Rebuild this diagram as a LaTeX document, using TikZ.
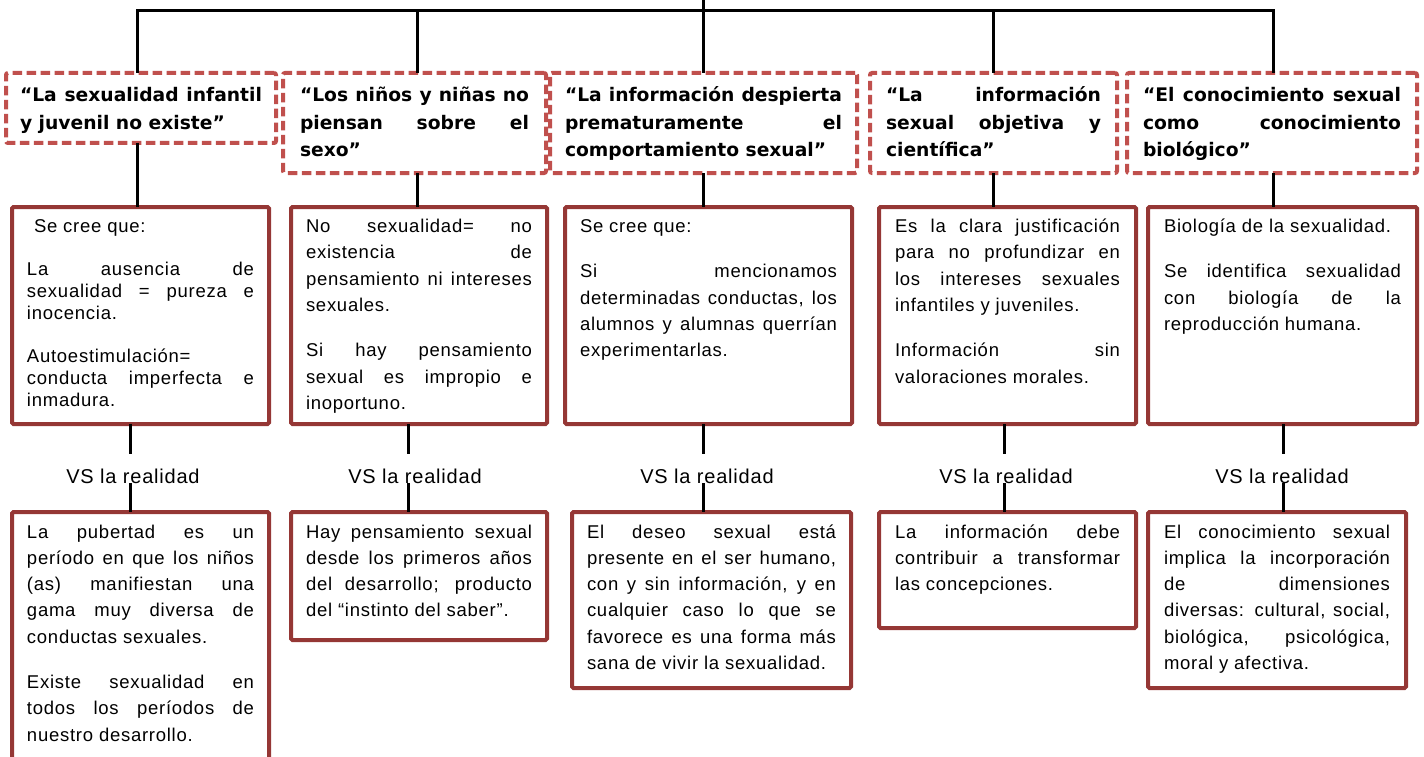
\documentclass[tikz,border=0pt]{standalone}
\usepackage{fontspec}
\newfontfamily\bodyf{Liberation Sans}[LetterSpace=4]
\newfontfamily\hdrf{DejaVu Sans}
\definecolor{hdrred}{HTML}{C0504D}
\definecolor{boxred}{HTML}{953735}
\newcommand\justln[1]{\makebox[\linewidth][s]{\strut#1}\par}
\newcommand\lastln[1]{\mbox{\strut#1}\par}
\newcommand\pgap[1]{\vspace{#1pt}}
\newcommand\tbox[9]{\node[#2,anchor=north west,inner xsep=#7pt,inner ysep=#8pt] (#1) at (#3,#4) {\parbox[t][\dimexpr#6pt-#8pt-#8pt\relax][t]{\dimexpr#5pt-#7pt-#7pt\relax}{#9}};}
\begin{document}
\begin{tikzpicture}[x=1pt,y=-1pt,
 hdr/.style={draw=hdrred, line width=4pt, dash pattern=on 9.5pt off 4.5pt, rounded corners=2pt, outer sep=0pt, font=\hdrf\bfseries\fontsize{18.7}{27.5}\selectfont},
 mid/.style={draw=boxred, line width=4pt, rounded corners=1.5pt, outer sep=0pt, font=\bodyf\fontsize{18.5}{26.3}\selectfont},
 midtight/.style={mid, font=\bodyf\fontsize{18.5}{22}\selectfont},
 conn/.style={draw=black, line width=3pt},
 vs/.style={anchor=base, inner sep=0pt, outer ysep=15pt, font=\bodyf\fontsize{20}{24}\selectfont}]
\useasboundingbox (0,0) rectangle (1424,757);
% header boxes
\tbox{h1}{hdr}{6}{73}{270}{70}{14}{9.75}{\justln{“La sexualidad infantil}\lastln{y juvenil no existe”}}
\tbox{h2}{hdr}{283}{73}{263}{100}{17}{9.75}{\justln{“Los niños y niñas no}\justln{piensan sobre el}\lastln{sexo”}}
\tbox{h3}{hdr}{550}{73}{307}{100}{15}{9.75}{\justln{“La información despierta}\justln{prematuramente el}\lastln{comportamiento sexual”}}
\tbox{h4}{hdr}{870}{73}{247}{100}{16}{9.75}{\justln{“La información}\justln{sexual objetiva y}\lastln{científica”}}
\tbox{h5}{hdr}{1127}{73}{290}{100}{16}{9.75}{\justln{“El conocimiento sexual}\justln{como conocimiento}\lastln{biológico”}}
% middle boxes
\tbox{m1}{midtight}{12}{207}{257}{217}{15}{9.6}{\lastln{\hspace*{7pt}Se cree que:}\pgap{21}\justln{La ausencia de}\justln{sexualidad = pureza e}\lastln{inocencia.}\pgap{21}\lastln{Autoestimulación=}\justln{conducta imperfecta e}\lastln{inmadura.}}
\tbox{m2}{mid}{291}{207}{256}{217}{15}{7.1}{\justln{No sexualidad= no}\justln{existencia de}\justln{pensamiento ni intereses}\lastln{sexuales.}\pgap{19}\justln{Si hay pensamiento}\justln{sexual es impropio e}\lastln{inoportuno.}}
\tbox{m3}{mid}{565}{207}{287}{217}{15}{7.1}{\lastln{Se cree que:}\pgap{19}\justln{Si mencionamos}\justln{determinadas conductas, los}\justln{alumnos y alumnas querrían}\lastln{experimentarlas.}}
\tbox{m4}{mid}{879}{207}{257}{217}{16}{7.1}{\justln{Es la clara justificación}\justln{para no profundizar en}\justln{los intereses sexuales}\lastln{infantiles y juveniles.}\pgap{19}\justln{Información sin}\lastln{valoraciones morales.}}
\tbox{m5}{mid}{1148}{207}{269}{217}{16}{7.1}{\lastln{Biología de la sexualidad.}\pgap{19}\justln{Se identifica sexualidad}\justln{con biología de la}\lastln{reproducción humana.}}
% bottom boxes
\tbox{b1}{mid}{12}{512}{257}{280}{15}{7.6}{\justln{La pubertad es un}\justln{período en que los niños}\justln{(as) manifiestan una}\justln{gama muy diversa de}\lastln{conductas sexuales.}\pgap{19}\justln{Existe sexualidad en}\justln{todos los períodos de}\lastln{nuestro desarrollo.}}
\tbox{b2}{mid}{291}{512}{256}{128}{15}{7.6}{\justln{Hay pensamiento sexual}\justln{desde los primeros años}\justln{del desarrollo; producto}\lastln{del “instinto del saber”.}}
\tbox{b3}{mid}{572}{512}{279}{176}{15}{7.6}{\justln{El deseo sexual está}\justln{presente en el ser humano,}\justln{con y sin información, y en}\justln{cualquier caso lo que se}\justln{favorece es una forma más}\lastln{sana de vivir la sexualidad.}}
\tbox{b4}{mid}{879}{512}{257}{116}{16}{7.6}{\justln{La información debe}\justln{contribuir a transformar}\lastln{las concepciones.}}
\tbox{b5}{mid}{1148}{512}{258}{176}{16}{7.6}{\justln{El conocimiento sexual}\justln{implica la incorporación}\justln{de dimensiones}\justln{diversas: cultural, social,}\justln{biológica, psicológica,}\lastln{moral y afectiva.}}
% VS labels
\node[vs] (v1) at (133,483) {VS la realidad};
\node[vs] (v2) at (415,483) {VS la realidad};
\node[vs] (v3) at (707,483) {VS la realidad};
\node[vs] (v4) at (1006,483) {VS la realidad};
\node[vs] (v5) at (1282,483) {VS la realidad};
% coordinates
\coordinate (stem) at (703,-5);
\coordinate (bar) at (703,11);
\coordinate (ux1) at (137,0);
\coordinate (ux2) at (417,0);
\coordinate (ux3) at (703,0);
\coordinate (ux4) at (993,0);
\coordinate (ux5) at (1273,0);
\coordinate (lx1) at (130,0);
\coordinate (lx2) at (408,0);
\coordinate (lx3) at (703,0);
\coordinate (lx4) at (1004,0);
\coordinate (lx5) at (1283,0);
% top tree
\draw[conn] (stem) -- (bar);
\draw[conn] (h1.north -| ux1) |- (bar) -| (h5.north -| ux5);
\draw[conn] (h2.north -| ux2) -- (bar -| ux2);
\draw[conn] (h3.north -| ux3) -- (bar -| ux3);
\draw[conn] (h4.north -| ux4) -- (bar -| ux4);
% header to middle, middle to label, label to bottom
\foreach \i in {1,...,5}{
  \draw[conn] (h\i.south -| ux\i) -- (m\i.north -| ux\i);
  \draw[conn] (m\i.south -| lx\i) -- (v\i.north -| lx\i);
  \draw[conn] (v\i.base -| lx\i) -- (b\i.north -| lx\i);
}
\end{tikzpicture}
\end{document}
